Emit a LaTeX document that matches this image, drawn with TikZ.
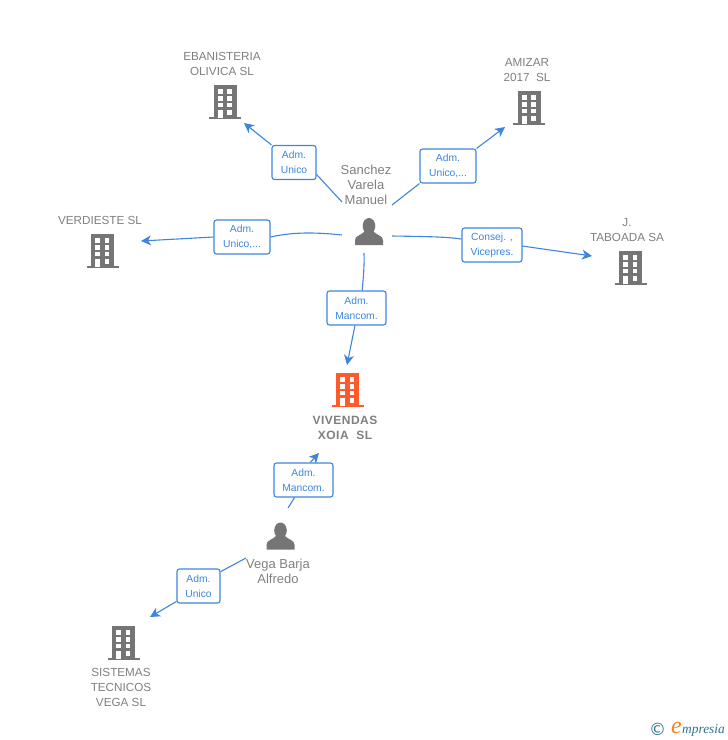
\documentclass[tikz,border=0pt]{standalone}
\usepackage{fontspec}
\setmainfont{Liberation Sans}
\newfontfamily\logofont{Liberation Serif}
\newfontfamily\symfont{DejaVu Sans}
\newfontfamily\mainfont[LetterSpace=4]{Liberation Sans}
\usetikzlibrary{arrows.meta}
\definecolor{iconGray}{HTML}{757575}
\definecolor{textGray}{HTML}{808080}
\definecolor{linkBlue}{HTML}{3D85E0}
\definecolor{mainOrange}{HTML}{FF5A2C}
\definecolor{logoTeal}{HTML}{2F7190}
\definecolor{logoOrange}{HTML}{F58220}
\tikzset{
  x=1pt,y=-1pt,
  lbl/.style={text=textGray,align=center,inner sep=0pt,font=\fontsize{11.7}{15}\selectfont},
  personlbl/.style={text=textGray,align=center,inner sep=0pt,font=\fontsize{13}{15}\selectfont},
  mainlbl/.style={text=textGray,align=center,inner sep=0pt,font=\mainfont\fontsize{12}{15}\selectfont\bfseries},
  rolebox/.style={draw=linkBlue,line width=1.1pt,rounded corners=2.5pt,fill=white,text=linkBlue,
    align=center,inner sep=0pt,minimum height=34pt,font=\fontsize{10.3}{15}\selectfont},
  link/.style={draw=linkBlue,line width=1.1pt},
  linkarrow/.style={link,-{Stealth[length=10pt,width=10pt,inset=3pt]}},
  pics/building/.style={code={
    \fill[#1] (-16,-2.2) rectangle (16,0);
    \fill[#1] (-11.5,-34) rectangle (11.5,-1);
    \foreach \yy in {-29.7,-23,-16.3}{
      \fill[white] (-7.2,\yy) rectangle (-2.5,\yy+4.7);
      \fill[white] (2.2,\yy) rectangle (6.8,\yy+4.7);
    }
    \fill[white] (-7.2,-9) rectangle (-2.5,-1);
    \fill[white] (2.2,-9) rectangle (6.8,-4);
  }},
  pics/person/.style={code={
    \fill[iconGray] (0,-19) ellipse (6.3 and 8);
    \fill[iconGray] (-14,0) -- (-14,-5) .. controls (-14,-9.5) and (-7,-10) .. (-4,-14)
      -- (4,-14) .. controls (7,-10) and (14,-9.5) .. (14,-5) -- (14,0) -- cycle;
  }}
}
\begin{document}
\begin{tikzpicture}
\useasboundingbox (0,0) rectangle (728,740);
% icons
\pic at (225,119) {building=iconGray};
\pic at (529,125) {building=iconGray};
\pic at (102.5,268) {building=iconGray};
\pic at (630.5,285) {building=iconGray};
\pic at (347.5,407) {building=mainOrange};
\pic at (123.5,660) {building=iconGray};
\pic at (369,245) {person};
\pic at (280.5,549.5) {person};
% labels
\node[lbl] (ebanl) at (222,64) {EBANISTERIA\\OLIVICA SL};
\node[lbl] (amizl) at (527,70) {AMIZAR\\2017\ \ SL};
\node[lbl] (verdl) at (100,220.5) {VERDIESTE SL};
\node[lbl] (tabol) at (627,230) {J.\\TABOADA SA};
\node[mainlbl] (vivl) at (345,428) {VIVENDAS\\XOIA\ \ SL};
\node[lbl] (sisl) at (121,687.5) {SISTEMAS\\TECNICOS\\VEGA SL};
\node[personlbl] (sanl) at (366,184.5) {Sanchez\\Varela\\Manuel};
\node[personlbl] (vegl) at (278,571) {Vega Barja\\Alfredo};
% role boxes
\node[rolebox,minimum width=44pt] (b1) at (294,162.5) {Adm.\\Unico};
\node[rolebox,minimum width=56pt] (b2) at (448,166) {Adm.\\Unico,...};
\node[rolebox,minimum width=56pt] (b3) at (242,237) {Adm.\\Unico,...};
\node[rolebox,minimum width=60pt] (b4) at (492,245) {Consej. ,\\Vicepres.};
\node[rolebox,minimum width=59pt] (b5) at (356.5,308) {Adm.\\Mancom.};
\node[rolebox,minimum width=59pt] (b6) at (303.5,480) {Adm.\\Mancom.};
\node[rolebox,minimum width=43pt] (b7) at (198.5,586) {Adm.\\Unico};
% free ends
\coordinate (s1) at (342,202);
\coordinate (t1) at (244,123);
\coordinate (s2) at (392,205);
\coordinate (t2) at (505,127);
\coordinate (s3) at (342,235);
\coordinate (t3) at (141,241);
\coordinate (s4) at (392,236);
\coordinate (t4) at (592,256);
\coordinate (s5) at (364,253);
\coordinate (t5) at (347,365);
\coordinate (s6) at (288,508);
\coordinate (t6) at (319,453);
\coordinate (s7) at (246,558);
\coordinate (t7) at (150,617);
% connectors
\draw[link] (s1) -- (b1.-28);
\draw[linkarrow] (b1.north west) -- (t1);
\draw[link] (s2) -- (b2.south west);
\draw[linkarrow] (b2.north east) -- (t2);
\draw[link] (s3) .. controls (318,232.5) and (295,231.5) .. (b3.east);
\draw[linkarrow] (b3.west) -- (t3);
\draw[link] (s4) .. controls (420,236.5) and (445,236.5) .. (b4.169);
\draw[linkarrow] (b4.-2) -- (t4);
\draw[link] (s5) .. controls (364.5,268) and (363,280) .. (b5.72);
\draw[linkarrow] (b5.265) -- (t5);
\draw[link] (s6) -- (b6.243);
\draw[linkarrow] (b6.69) -- (t6);
\draw[link] (s7) -- (b7.33);
\draw[linkarrow] (b7.215) -- (t7);
% logo
\node[inner sep=0pt,text=logoTeal,font=\symfont\fontsize{17}{17}\selectfont] (logoc) at (657.5,729) {©};
\node[inner sep=0pt,text=logoOrange,font=\logofont\itshape\fontsize{24}{24}\selectfont] (logoe) at (676.5,727.5) {e};
\node[inner sep=0pt,text=logoTeal,anchor=west,font=\logofont\itshape\fontsize{13.4}{13.4}\selectfont] (logom) at (682,730) {mpresia};
\end{tikzpicture}
\end{document}
